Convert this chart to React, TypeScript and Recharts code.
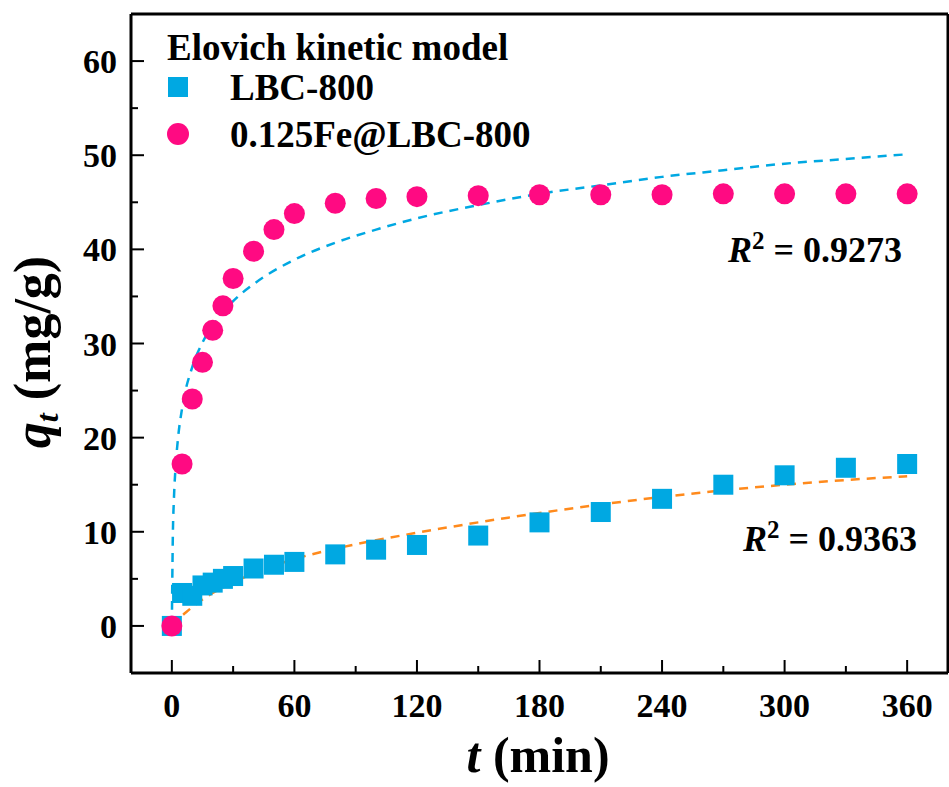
import { ComposedChart, Scatter, Line, XAxis, YAxis, Legend, Customized } from 'recharts'

// measured points (t in min, q in mg/g)
const times = [0, 5, 10, 15, 20, 25, 30, 40, 50, 60, 80, 100, 120, 150, 180, 210, 240, 270, 300, 330, 360]
const lbcValues = [0, 3.5, 3.2, 4.3, 4.6, 5.0, 5.3, 6.1, 6.5, 6.8, 7.6, 8.1, 8.6, 9.6, 11.0, 12.1, 13.5, 15.0, 16.0, 16.8, 17.2]
const feValues = [0, 17.2, 24.1, 28.0, 31.4, 34.0, 36.9, 39.8, 42.1, 43.8, 44.9, 45.4, 45.6, 45.7, 45.8, 45.8, 45.8, 45.9, 45.9, 45.9, 45.9]

// Elovich fit curves
const fitTimes = [0, 0.5, 1, 2, 3, 5, 10, 15, 20, 30, 40, 60, 80, 100, 120, 150, 180, 210, 240, 270, 300, 330, 360]
const lbcFit = [0, 0.1, 0.25, 0.5, 0.75, 1.1, 2.0, 2.8, 3.5, 4.6, 5.6, 7.1, 8.2, 9.1, 9.9, 11.0, 12.0, 12.9, 13.7, 14.4, 15.0, 15.5, 15.9]
const feFit = [0, 9.8, 13.4, 17.4, 19.9, 23.1, 27.5, 30.1, 31.9, 34.5, 36.3, 38.9, 40.7, 42.1, 43.3, 44.7, 45.9, 46.8, 47.7, 48.4, 49.1, 49.6, 50.1]

const xTicks = [0, 30, 60, 90, 120, 150, 180, 210, 240, 270, 300, 330, 360]
const yTicks = [0, 5, 10, 15, 20, 25, 30, 35, 40, 45, 50, 55, 60]

const seriesNames = ['LBC-800', '0.125Fe@LBC-800']
const r2Labels = ['0.9273', '0.9363']

const BLUE = '#00A8E2'
const PINK = '#FF0A82'
const ORANGE = '#FF8A1C'
const serif = "'Liberation Serif', 'Times New Roman', serif"

const lbcPoints = times.map((t, i) => ({ t, q: lbcValues[i] }))
const fePoints = times.map((t, i) => ({ t, q: feValues[i] }))
const lbcFitPoints = fitTimes.map((t, i) => ({ t, q: lbcFit[i] }))
const feFitPoints = fitTimes.map((t, i) => ({ t, q: feFit[i] }))

function XTick({ x, y, payload }: any) {
  const major = payload.value % 60 === 0
  return (
    <g>
      <line x1={x} x2={x} y1={y} y2={y - (major ? 13 : 7)} stroke="#000" strokeWidth={2} />
      {major && (
        <text x={x} y={y + 44} textAnchor="middle" fontSize={34} fontWeight="bold" fontFamily={serif} fill="#000">
          {payload.value}
        </text>
      )}
    </g>
  )
}

function YTick({ x, y, payload }: any) {
  const major = payload.value % 10 === 0
  return (
    <g>
      <line x1={x} x2={x + (major ? 13 : 7)} y1={y} y2={y} stroke="#000" strokeWidth={2} />
      {major && (
        <text x={x - 14} y={y + 12} textAnchor="end" fontSize={34} fontWeight="bold" fontFamily={serif} fill="#000">
          {payload.value}
        </text>
      )}
    </g>
  )
}

const Square = ({ cx, cy }: any) => <rect x={cx - 10} y={cy - 10} width={20} height={20} fill={BLUE} />
const Dot = ({ cx, cy }: any) => <circle cx={cx} cy={cy} r={10.5} fill={PINK} />

function LegendBox() {
  return (
    <svg width={420} height={140} style={{ overflow: 'visible' }}>
      <text x={27} y={40} fontSize={37} fontWeight="bold" fontFamily={serif}>Elovich kinetic model</text>
      <rect x={28} y={57} width={20} height={20} fill={BLUE} />
      <text x={90} y={80} fontSize={37} fontWeight="bold" fontFamily={serif}>{seriesNames[0]}</text>
      <circle cx={38} cy={114} r={11} fill={PINK} />
      <text x={90} y={127} fontSize={37} fontWeight="bold" fontFamily={serif}>{seriesNames[1]}</text>
    </svg>
  )
}

function Annotations() {
  return (
    <g fontFamily={serif} fontWeight="bold" fill="#000">
      <text x={728} y={262} fontSize={36}>
        <tspan fontStyle="italic">R</tspan>
        <tspan fontSize={25} dy={-13}>2</tspan>
        <tspan dy={13}>{' = ' + r2Labels[0]}</tspan>
      </text>
      <text x={743} y={551} fontSize={36}>
        <tspan fontStyle="italic">R</tspan>
        <tspan fontSize={25} dy={-13}>2</tspan>
        <tspan dy={13}>{' = ' + r2Labels[1]}</tspan>
      </text>
      <text x={538} y={772} fontSize={50} textAnchor="middle">
        <tspan fontStyle="italic">t</tspan>
        <tspan>{' (min)'}</tspan>
      </text>
      <text x={50} y={352} fontSize={52} textAnchor="middle" transform="rotate(-90, 50, 352)">
        <tspan fontStyle="italic">q</tspan>
        <tspan fontStyle="italic" fontSize={32} dy={8}>t</tspan>
        <tspan dy={-8}>{' (mg/g)'}</tspan>
      </text>
    </g>
  )
}

export default function App() {
  return (
    <div style={{ position: 'absolute', left: 0, top: 0, background: '#fff' }}>
      <ComposedChart width={949} height={787} margin={{ top: 13, right: 0, bottom: 113, left: 130 }}>
        <XAxis
          xAxisId={0}
          type="number"
          dataKey="t"
          domain={[-20, 380]}
          ticks={xTicks}
          interval={0}
          height={1}
          tickSize={0}
          tickMargin={0}
          tick={<XTick />}
          axisLine={{ stroke: '#000', strokeWidth: 3 }}
          allowDataOverflow
        />
        <XAxis xAxisId="top" orientation="top" type="number" domain={[-20, 380]} height={1} tick={false} tickLine={false} axisLine={{ stroke: '#000', strokeWidth: 3 }} />
        <YAxis
          yAxisId={0}
          type="number"
          domain={[-5, 65]}
          ticks={yTicks}
          interval={0}
          width={1}
          tickSize={0}
          tickMargin={0}
          tick={<YTick />}
          axisLine={{ stroke: '#000', strokeWidth: 3 }}
          allowDataOverflow
        />
        <YAxis yAxisId="right" orientation="right" type="number" domain={[-5, 65]} width={1} tick={false} tickLine={false} axisLine={{ stroke: '#000', strokeWidth: 3 }} />
        <Legend
          layout="vertical"
          align="center"
          verticalAlign="middle"
          content={() => <LegendBox />}
          wrapperStyle={{ left: 140, top: 20, width: 420 }}
        />
        <Scatter name={seriesNames[0]} data={lbcPoints} dataKey="q" fill={BLUE} shape={<Square />} isAnimationActive={false} />
        <Scatter name={seriesNames[1]} data={fePoints} dataKey="q" fill={PINK} shape={<Dot />} isAnimationActive={false} />
        <Line data={feFitPoints} dataKey="q" type="monotone" stroke={BLUE} strokeWidth={2.5} strokeDasharray="9 7" dot={false} legendType="none" isAnimationActive={false} />
        <Line data={lbcFitPoints} dataKey="q" type="monotone" stroke={ORANGE} strokeWidth={2.5} strokeDasharray="9 7" dot={false} legendType="none" isAnimationActive={false} />
        <Customized component={Annotations} />
      </ComposedChart>
    </div>
  )
}
